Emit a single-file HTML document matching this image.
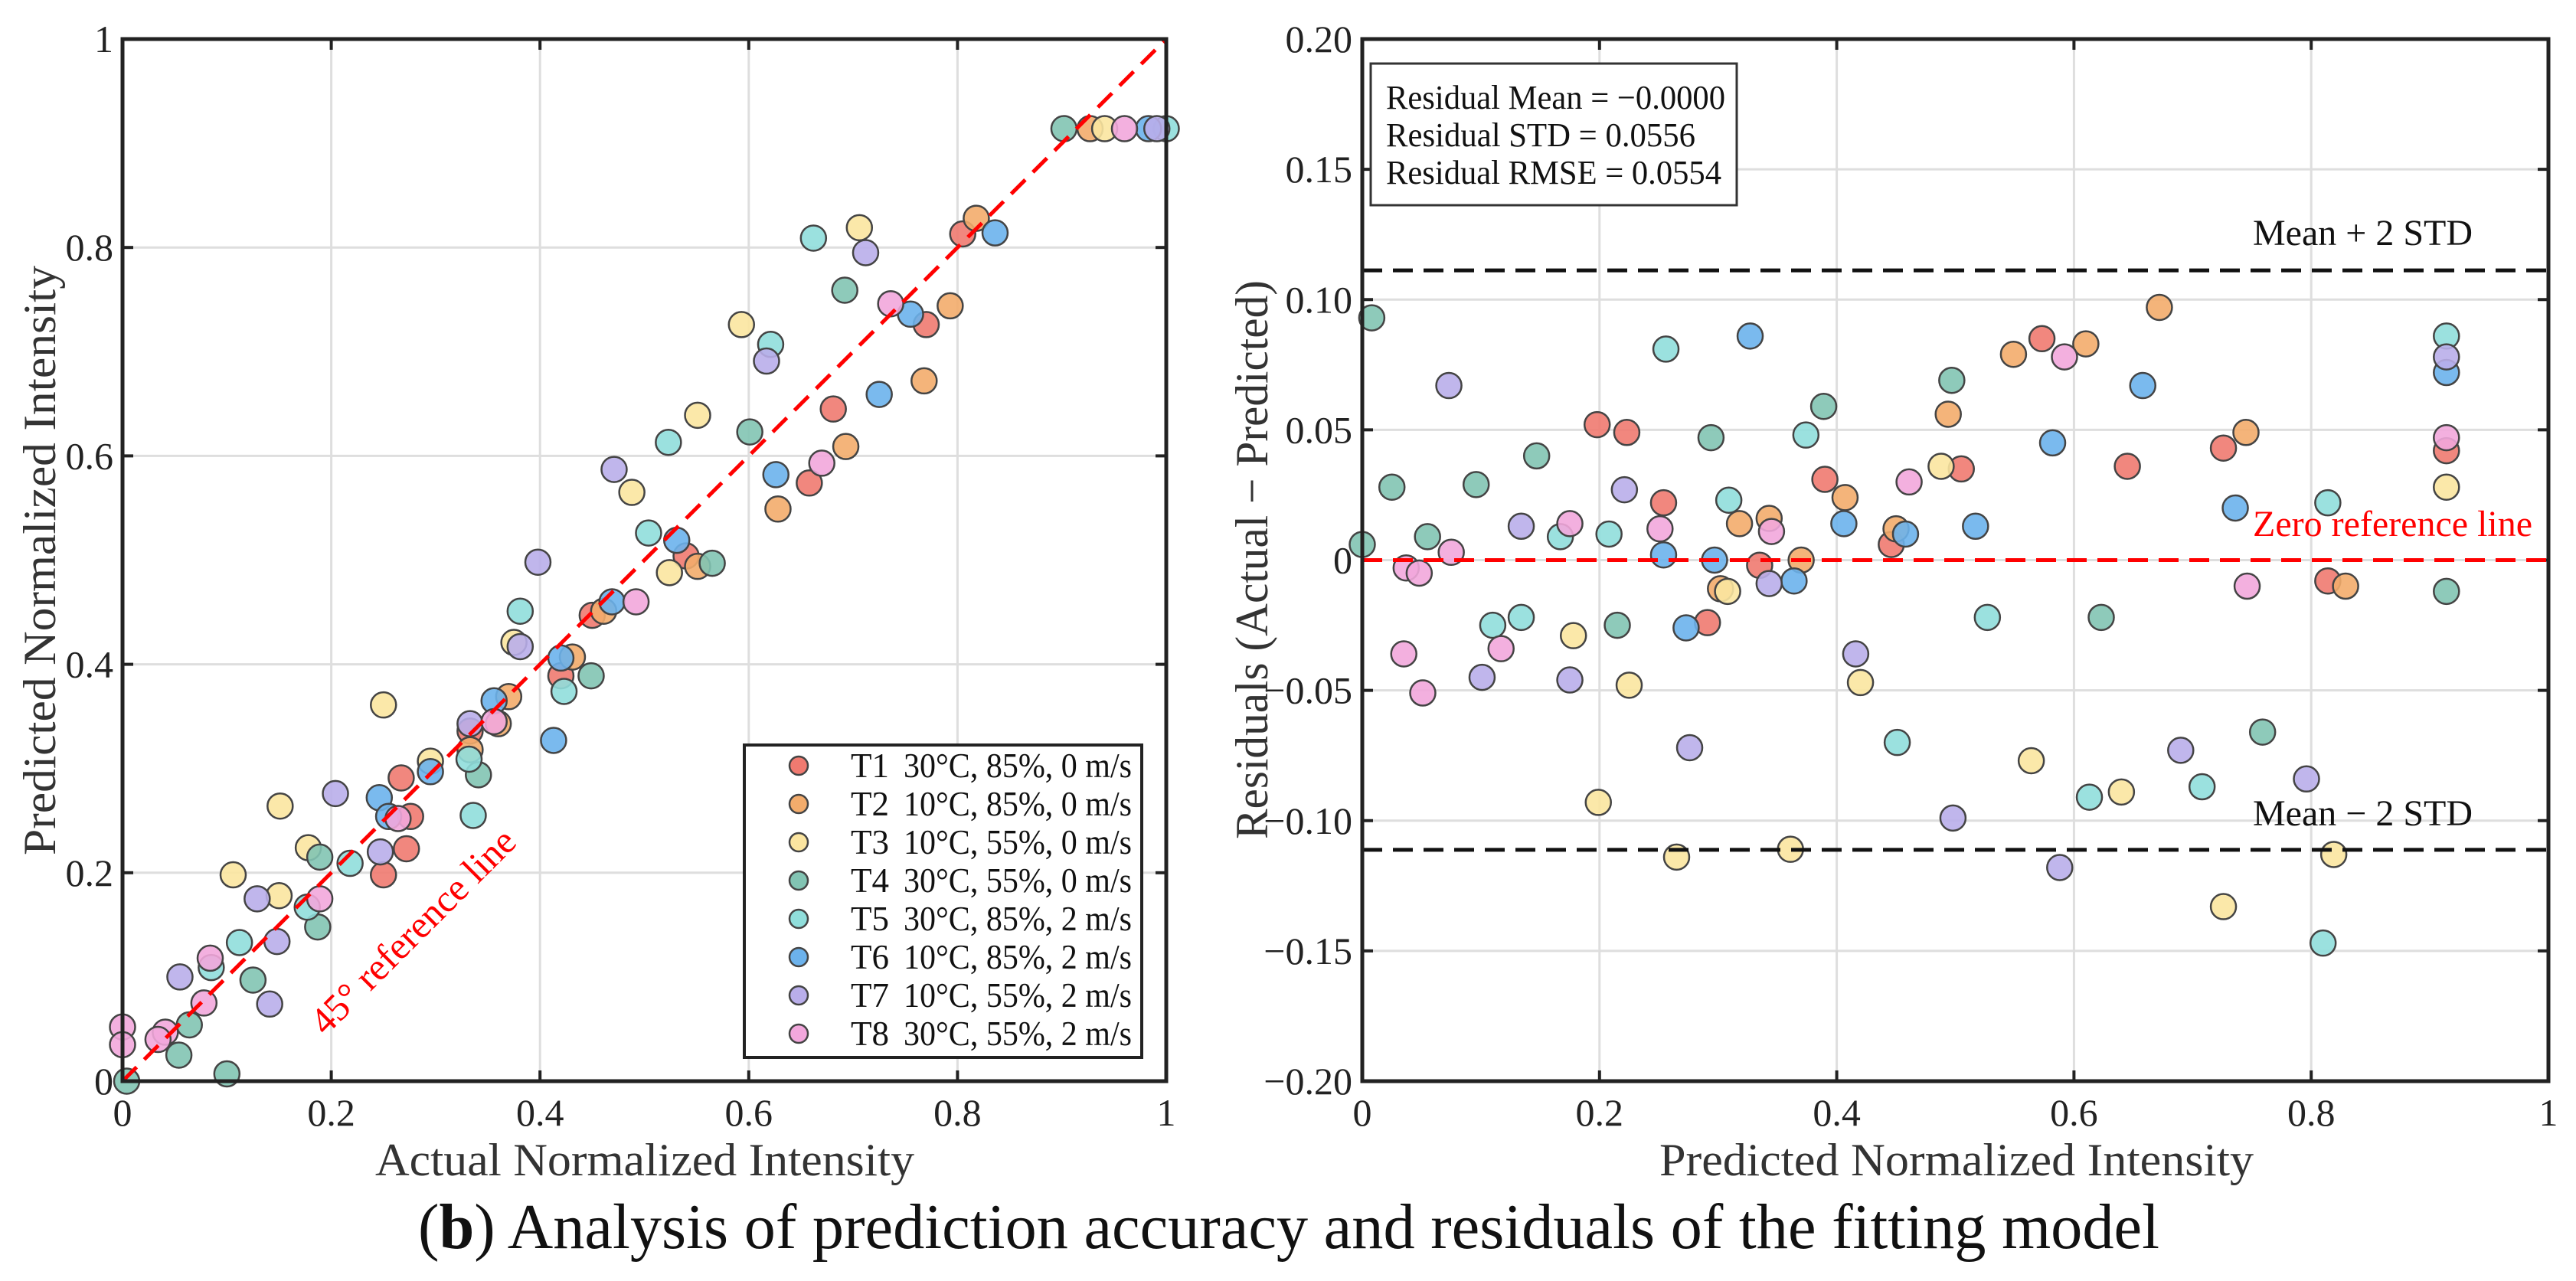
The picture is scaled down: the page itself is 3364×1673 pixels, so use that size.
<!DOCTYPE html>
<html><head><meta charset="utf-8"><style>
html,body{margin:0;padding:0;background:#fff;}
svg{display:block;font-family:"Liberation Serif",serif;}
</style></head><body>
<svg id="fig" width="3364" height="1673" viewBox="0 0 3364 1673" xmlns="http://www.w3.org/2000/svg">
<rect width="3364" height="1673" fill="#fff"/>
<g id="left"></g>
<g id="right"></g>
<text x="1683" y="1630" text-anchor="middle" font-size="84" textLength="2274" lengthAdjust="spacingAndGlyphs" fill="#111">(<tspan font-weight="bold">b</tspan>) Analysis of prediction accuracy and residuals of the fitting model</text>
</svg>
<script>
const seriesNames=["T1","T2","T3","T4","T5","T6","T7","T8"];
const seriesLabels=["30°C, 85%, 0 m/s","10°C, 85%, 0 m/s","10°C, 55%, 0 m/s","30°C, 55%, 0 m/s","30°C, 85%, 2 m/s","10°C, 85%, 2 m/s","10°C, 55%, 2 m/s","30°C, 55%, 2 m/s"];
const colors=["#f07a70","#f3ac6c","#fbe5a0","#82c4b3","#90dedb","#6cb2ec","#b9aeea","#f2a7dc"];
const xTicks=[0,0.2,0.4,0.6,0.8,1];
const xTickLabels=["0","0.2","0.4","0.6","0.8","1"];
const yTicksL=[0,0.2,0.4,0.6,0.8,1];
const yTickLabelsL=["0","0.2","0.4","0.6","0.8","1"];
const yTicksR=[-0.2,-0.15,-0.1,-0.05,0,0.05,0.1,0.15,0.2];
const yTickLabelsR=["\u22120.20","\u22120.15","\u22120.10","\u22120.05","0","0.05","0.10","0.15","0.20"];
// left chart: [actual, predicted]
const actualT1=[0.450,0.420,0.540,0.658,0.681,0.770,0.805,0.267,0.276,0.272,0.250,0.333];
const predT1=[0.447,0.389,0.504,0.574,0.645,0.726,0.813,0.291,0.254,0.223,0.198,0.336];
const actualT2=[0.818,0.793,0.768,0.693,0.628,0.551,0.461,0.431,0.370,0.360,0.333,0.927];
const predT2=[0.828,0.744,0.672,0.609,0.549,0.494,0.451,0.407,0.369,0.343,0.318,0.914];
const actualT3=[0.941,0.706,0.593,0.551,0.488,0.524,0.375,0.250,0.295,0.178,0.151,0.106,0.150];
const predT3=[0.914,0.819,0.726,0.639,0.565,0.488,0.421,0.361,0.307,0.224,0.264,0.198,0.178];
const actualT4=[0.902,0.692,0.601,0.565,0.449,0.341,0.189,0.187,0.125,0.064,0.054,0.100,0.004];
const predT4=[0.914,0.759,0.623,0.497,0.389,0.294,0.215,0.148,0.097,0.054,0.025,0.007,0.0];
const actualT5=[1.0,0.662,0.621,0.523,0.504,0.381,0.423,0.332,0.336,0.218,0.177,0.112,0.085];
const predT5=[0.914,0.809,0.707,0.613,0.526,0.451,0.374,0.309,0.255,0.209,0.167,0.133,0.109];
const actualT6=[0.983,0.836,0.755,0.725,0.626,0.531,0.469,0.420,0.413,0.356,0.295,0.246,0.255];
const predT6=[0.914,0.814,0.736,0.659,0.582,0.519,0.460,0.406,0.327,0.365,0.297,0.272,0.254];
const actualT7=[0.991,0.712,0.617,0.471,0.398,0.381,0.333,0.204,0.247,0.129,0.148,0.055,0.141];
const predT7=[0.914,0.795,0.691,0.587,0.498,0.417,0.343,0.276,0.220,0.175,0.134,0.100,0.074];
const actualT8=[0.960,0.736,0.670,0.492,0.356,0.264,0.189,0.084,0.078,0.041,0.034,0.0,0.0];
const predT8=[0.914,0.746,0.593,0.460,0.345,0.252,0.175,0.118,0.075,0.047,0.040,0.052,0.035];
// right chart: [predicted, residual]
const rpT1=[0.198,0.223,0.254,0.291,0.335,0.390,0.446,0.505,0.573,0.645,0.726,0.814,0.914];
const rrT1=[0.052,0.049,0.022,-0.024,-0.002,0.031,0.006,0.035,0.085,0.036,0.043,-0.008,0.042];
const rpT2=[0.318,0.343,0.370,0.407,0.450,0.494,0.549,0.610,0.672,0.745,0.829,0.302];
const rrT2=[0.014,0.016,0.000,0.024,0.012,0.056,0.079,0.083,0.097,0.049,-0.010,-0.011];
const rpT3=[0.178,0.225,0.199,0.265,0.308,0.361,0.420,0.488,0.564,0.640,0.726,0.819,0.914];
const rrT3=[-0.029,-0.048,-0.093,-0.114,-0.012,-0.111,-0.047,0.036,-0.077,-0.089,-0.133,-0.113,0.028];
const rpT4=[0.008,0.0,0.025,0.055,0.096,0.147,0.215,0.294,0.389,0.497,0.623,0.759,0.914];
const rrT4=[0.093,0.006,0.028,0.009,0.029,0.040,-0.025,0.047,0.059,0.069,-0.022,-0.066,-0.012];
const rpT5=[0.256,0.208,0.167,0.110,0.134,0.309,0.374,0.451,0.527,0.613,0.708,0.810,0.914,0.814];
const rrT5=[0.081,0.010,0.009,-0.025,-0.022,0.023,0.048,-0.070,-0.022,-0.091,-0.087,-0.147,0.086,0.022];
const rpT6=[0.327,0.254,0.273,0.297,0.364,0.406,0.458,0.517,0.582,0.658,0.736,0.914];
const rrT6=[0.086,0.002,-0.026,0.0,-0.008,0.014,0.010,0.013,0.045,0.067,0.020,0.072];
const rpT7=[0.073,0.101,0.134,0.175,0.221,0.276,0.343,0.416,0.498,0.588,0.690,0.796,0.914];
const rrT7=[0.067,-0.045,0.013,-0.046,0.027,-0.072,-0.009,-0.036,-0.099,-0.118,-0.073,-0.084,0.078];
const rpT8=[0.035,0.051,0.037,0.048,0.075,0.117,0.175,0.251,0.345,0.461,0.592,0.746,0.914];
const rrT8=[-0.036,-0.051,-0.003,-0.005,0.003,-0.034,0.014,0.012,0.011,0.030,0.078,-0.010,0.047];
const residMean=0.0, residStd=0.0556;

const leftX=[actualT1,actualT2,actualT3,actualT4,actualT5,actualT6,actualT7,actualT8];
const leftY=[predT1,predT2,predT3,predT4,predT5,predT6,predT7,predT8];
const rightX=[rpT1,rpT2,rpT3,rpT4,rpT5,rpT6,rpT7,rpT8];
const rightY=[rrT1,rrT2,rrT3,rrT4,rrT5,rrT6,rrT7,rrT8];

const NS="http://www.w3.org/2000/svg";
function mk(parent,tag,attrs,txt){const e=document.createElementNS(NS,tag);for(const k in attrs)e.setAttribute(k,attrs[k]);if(txt!==undefined)e.textContent=txt;parent.appendChild(e);return e;}

// LEFT
const L={x0:160,x1:1523,y0:1412,y1:51};
const lx=v=>L.x0+v*(L.x1-L.x0);
const ly=v=>L.y0-v*(L.y0-L.y1);
const gl=document.getElementById('left');
xTicks.forEach((t,i)=>{
  const g=mk(gl,'line',{x1:lx(t),x2:lx(t),y1:L.y1,y2:L.y0,stroke:'#dedede','stroke-width':3});
  
  
  const tl=mk(gl,'text',{x:lx(t),y:1470,'text-anchor':'middle','font-size':50,fill:'#222'},xTickLabels[i]);
  
  
  mk(gl,'line',{x1:lx(t),x2:lx(t),y1:L.y0,y2:L.y0-14,stroke:'#222','stroke-width':4});
  mk(gl,'line',{x1:lx(t),x2:lx(t),y1:L.y1,y2:L.y1+14,stroke:'#222','stroke-width':4});
});
yTicksL.forEach((t,i)=>{
  const g=mk(gl,'line',{x1:L.x0,x2:L.x1,y1:ly(t),y2:ly(t),stroke:'#dedede','stroke-width':3});
  
  
  const tl=mk(gl,'text',{x:148,y:ly(t)+17,'text-anchor':'end','font-size':50,fill:'#222'},yTickLabelsL[i]);
  
  
  mk(gl,'line',{x1:L.x0,x2:L.x0+14,y1:ly(t),y2:ly(t),stroke:'#222','stroke-width':4});
  mk(gl,'line',{x1:L.x1,x2:L.x1-14,y1:ly(t),y2:ly(t),stroke:'#222','stroke-width':4});
});
leftX.forEach((xs,s)=>{
  xs.forEach((v,i)=>{
    const c=mk(gl,'circle',{cx:lx(v),cy:ly(leftY[s][i]),r:16.5,fill:colors[s],'fill-opacity':0.9,stroke:'#444','stroke-width':2.5});
    
    
  });
});
const ref=mk(gl,'line',{x1:lx(0),y1:ly(0),x2:lx(1),y2:ly(1),stroke:'#ff0000','stroke-width':5,'stroke-dasharray':'26 14'});


const refl=mk(gl,'text',{x:551,y:1228,'text-anchor':'middle','font-size':50,fill:'#ff0000',transform:'rotate(-45 551 1228)'},'45° reference line');


const fr=mk(gl,'rect',{x:L.x0,y:L.y1,width:L.x1-L.x0,height:L.y0-L.y1,fill:'none',stroke:'#222','stroke-width':5});


const leg=mk(gl,'g',{});


mk(leg,'rect',{x:972,y:973,width:519,height:408,fill:'#fff',stroke:'#222','stroke-width':4});
seriesNames.forEach((n,s)=>{
  const yy=1000+s*50;
  const e=mk(leg,'g',{});
  
  
  mk(e,'circle',{cx:1043,cy:yy,r:12,fill:colors[s],stroke:'#444','stroke-width':2.5});
  mk(e,'text',{x:1111,y:yy+15,'font-size':45,fill:'#111'},n);
  mk(e,'text',{x:1180,y:yy+15,'font-size':45,fill:'#111',textLength:298,lengthAdjust:'spacingAndGlyphs'},seriesLabels[s]);
});
const xt=mk(gl,'text',{x:842,y:1535,'text-anchor':'middle','font-size':60,fill:'#333',textLength:704,lengthAdjust:'spacingAndGlyphs'},'Actual Normalized Intensity');


const yt=mk(gl,'text',{x:72,y:732,'text-anchor':'middle','font-size':60,fill:'#333',transform:'rotate(-90 72 732)',textLength:770,lengthAdjust:'spacingAndGlyphs'},'Predicted Normalized Intensity');



// RIGHT
const R={x0:1779,x1:3328,y0:1412,y1:51};
const rx=v=>R.x0+v*(R.x1-R.x0);
const ry=v=>R.y0-(v+0.2)/0.4*(R.y0-R.y1);
const gr=document.getElementById('right');
xTicks.forEach((t,i)=>{
  const g=mk(gr,'line',{x1:rx(t),x2:rx(t),y1:R.y1,y2:R.y0,stroke:'#dedede','stroke-width':3});
  
  
  const tl=mk(gr,'text',{x:rx(t),y:1470,'text-anchor':'middle','font-size':50,fill:'#222'},xTickLabels[i]);
  
  
  mk(gr,'line',{x1:rx(t),x2:rx(t),y1:R.y0,y2:R.y0-14,stroke:'#222','stroke-width':4});
  mk(gr,'line',{x1:rx(t),x2:rx(t),y1:R.y1,y2:R.y1+14,stroke:'#222','stroke-width':4});
});
yTicksR.forEach((t,i)=>{
  const g=mk(gr,'line',{x1:R.x0,x2:R.x1,y1:ry(t),y2:ry(t),stroke:'#dedede','stroke-width':3});
  
  
  const tl=mk(gr,'text',{x:1766,y:ry(t)+17,'text-anchor':'end','font-size':50,fill:'#222'},yTickLabelsR[i]);
  
  
  mk(gr,'line',{x1:R.x0,x2:R.x0+14,y1:ry(t),y2:ry(t),stroke:'#222','stroke-width':4});
  mk(gr,'line',{x1:R.x1,x2:R.x1-14,y1:ry(t),y2:ry(t),stroke:'#222','stroke-width':4});
});
rightX.forEach((xs,s)=>{
  xs.forEach((v,i)=>{
    const c=mk(gr,'circle',{cx:rx(v),cy:ry(rightY[s][i]),r:16.5,fill:colors[s],'fill-opacity':0.9,stroke:'#444','stroke-width':2.5});
    
    
  });
});
const zl=mk(gr,'line',{x1:R.x0,x2:R.x1,y1:ry(residMean),y2:ry(residMean),stroke:'#ff0000','stroke-width':5,'stroke-dasharray':'26 14'});


const up=mk(gr,'line',{x1:R.x0,x2:R.x1,y1:ry(residMean+2*residStd),y2:ry(residMean+2*residStd),stroke:'#111','stroke-width':5,'stroke-dasharray':'26 14'});


const lo=mk(gr,'line',{x1:R.x0,x2:R.x1,y1:ry(residMean-2*residStd),y2:ry(residMean-2*residStd),stroke:'#111','stroke-width':5,'stroke-dasharray':'26 14'});


const t1=mk(gr,'text',{x:2942,y:320,'font-size':48,fill:'#111'},'Mean + 2 STD');


const t2=mk(gr,'text',{x:2942,y:1078,'font-size':48,fill:'#111'},'Mean \u2212 2 STD');


const t3=mk(gr,'text',{x:2942,y:700,'font-size':48,fill:'#ff0000'},'Zero reference line');


const sb=mk(gr,'g',{});


mk(sb,'rect',{x:1790,y:83,width:478,height:185,fill:'#fff',stroke:'#333','stroke-width':3});
mk(sb,'text',{x:1810,y:142,'font-size':44,fill:'#111',textLength:443,lengthAdjust:'spacingAndGlyphs'},'Residual Mean = \u22120.0000');
mk(sb,'text',{x:1810,y:191,'font-size':44,fill:'#111',textLength:404,lengthAdjust:'spacingAndGlyphs'},'Residual STD = 0.0556');
mk(sb,'text',{x:1810,y:240,'font-size':44,fill:'#111',textLength:438,lengthAdjust:'spacingAndGlyphs'},'Residual RMSE = 0.0554');
const fr2=mk(gr,'rect',{x:R.x0,y:R.y1,width:R.x1-R.x0,height:R.y0-R.y1,fill:'none',stroke:'#222','stroke-width':5});


const xt2=mk(gr,'text',{x:2555,y:1535,'text-anchor':'middle','font-size':60,fill:'#333',textLength:776,lengthAdjust:'spacingAndGlyphs'},'Predicted Normalized Intensity');


const yt2=mk(gr,'text',{x:1655,y:731,'text-anchor':'middle','font-size':60,fill:'#333',transform:'rotate(-90 1655 731)',textLength:730,lengthAdjust:'spacingAndGlyphs'},'Residuals (Actual \u2212 Predicted)');


</script>
</body></html>
